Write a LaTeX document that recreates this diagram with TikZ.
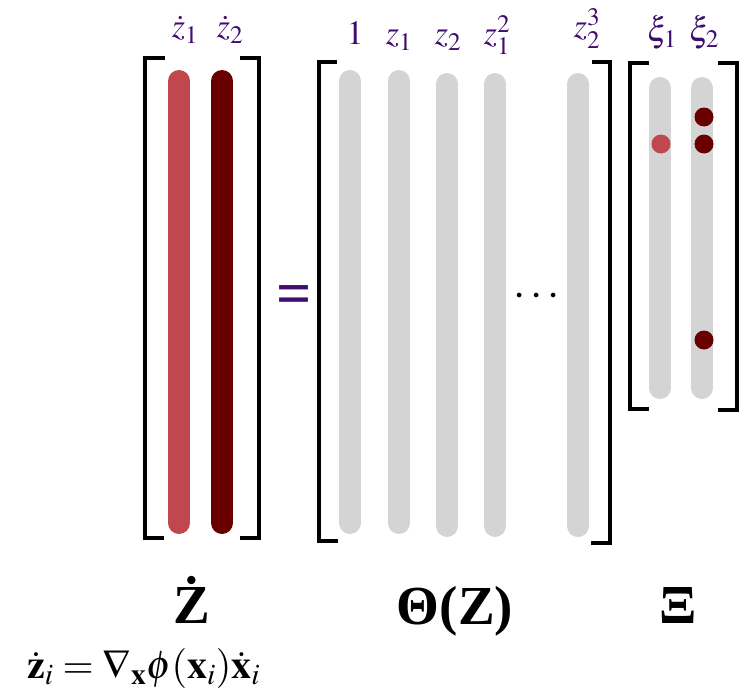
\documentclass[tikz,border=0pt]{standalone}
\usepackage{mathptmx}
\usepackage{fontspec}
\setmainfont{Liberation Serif}
\definecolor{lab}{RGB}{63,12,112}
\definecolor{lred}{RGB}{192,71,78}
\definecolor{dred}{RGB}{105,0,0}
\definecolor{lgray}{RGB}{212,212,212}
\tikzset{
  bar/.style={line width=22pt, line cap=round},
  brk/.style={line width=4.5pt, line join=miter, line cap=rect},
  toplab/.style={text=lab, inner sep=0pt, anchor=base, font=\fontsize{34}{40}\selectfont},
  biglab/.style={inner sep=0pt, anchor=base, font=\fontsize{55}{62}\selectfont\bfseries},
  dot/.style={circle, inner sep=0pt, minimum size=19pt}
}
\begin{document}
\begin{tikzpicture}[x=1pt,y=-1pt]
\useasboundingbox (0,0) rectangle (747,693);
% Zdot block
\draw[bar, lred] (179,81) -- (179,523);
\draw[bar, dred] (222,81) -- (222,523);
\draw[brk] (163,58) -- (145,58) -- (145,538) -- (162,538);
\draw[brk] (242,58) -- (259,58) -- (259,538) -- (242,538);
\node[toplab] (zd1) at (185,38) {$\dot{z}_1$};
\node[toplab] (zd2) at (230,38) {$\dot{z}_2$};
% Theta block
\draw[bar, lgray] (350,81) -- (350,523);
\draw[bar, lgray] (399,81) -- (399,523);
\draw[bar, lgray] (447,84) -- (447,526);
\draw[bar, lgray] (495,84) -- (495,526);
\draw[bar, lgray] (578,84) -- (578,526);
\draw[brk] (335,62) -- (319,62) -- (319,541) -- (336,541);
\draw[brk] (594,62) -- (610,62) -- (610,543) -- (593,543);
\node[toplab] (t1) at (355,45) {$1$};
\node[toplab] (t2) at (399,45) {$z_1$};
\node[toplab] (t3) at (448,45) {$z_2$};
\node[toplab] (t4) at (497,45) {$z_1^2$};
\node[toplab] (t5) at (587,38) {$z_2^3$};
\node[inner sep=0pt, font=\fontsize{44}{50}\selectfont] (dots) at (537,297) {$\cdots$};
% Xi block
\draw[bar, lgray] (660,88) -- (660,388);
\draw[bar, lgray] (702,88) -- (702,388);
\draw[brk] (647,63) -- (630,63) -- (630,409) -- (647,409);
\draw[brk] (720,63) -- (737,63) -- (737,410) -- (720,410);
\node[dot, fill=lred] (d1) at (661,144) {};
\node[dot, fill=dred] (d2) at (704,117) {};
\node[dot, fill=dred] (d3) at (704,144) {};
\node[dot, fill=dred] (d4) at (704,340) {};
\node[toplab] (x1) at (662,42) {$\xi_1$};
\node[toplab] (x2) at (704,42) {$\xi_2$};
% equals
\node[inner sep=0pt, text=lab, font=\fontsize{62}{70}\selectfont\bfseries] (eq) at (294,300) {=};
% bottom labels
\node[biglab] (Z) at (192,623) {\.Z};
\node[biglab] (T) at (455,624) {Θ(Z)};
\node[biglab] (X) at (678,623) {Ξ};
\node[inner sep=0pt, anchor=base west, font=\fontsize{40}{46}\selectfont] (f) at (27,678)
  {$\dot{\mathbf{z}}_i=\nabla_{\mathbf{x}}\phi(\mathbf{x}_i)\dot{\mathbf{x}}_i$};
\end{tikzpicture}
\end{document}
